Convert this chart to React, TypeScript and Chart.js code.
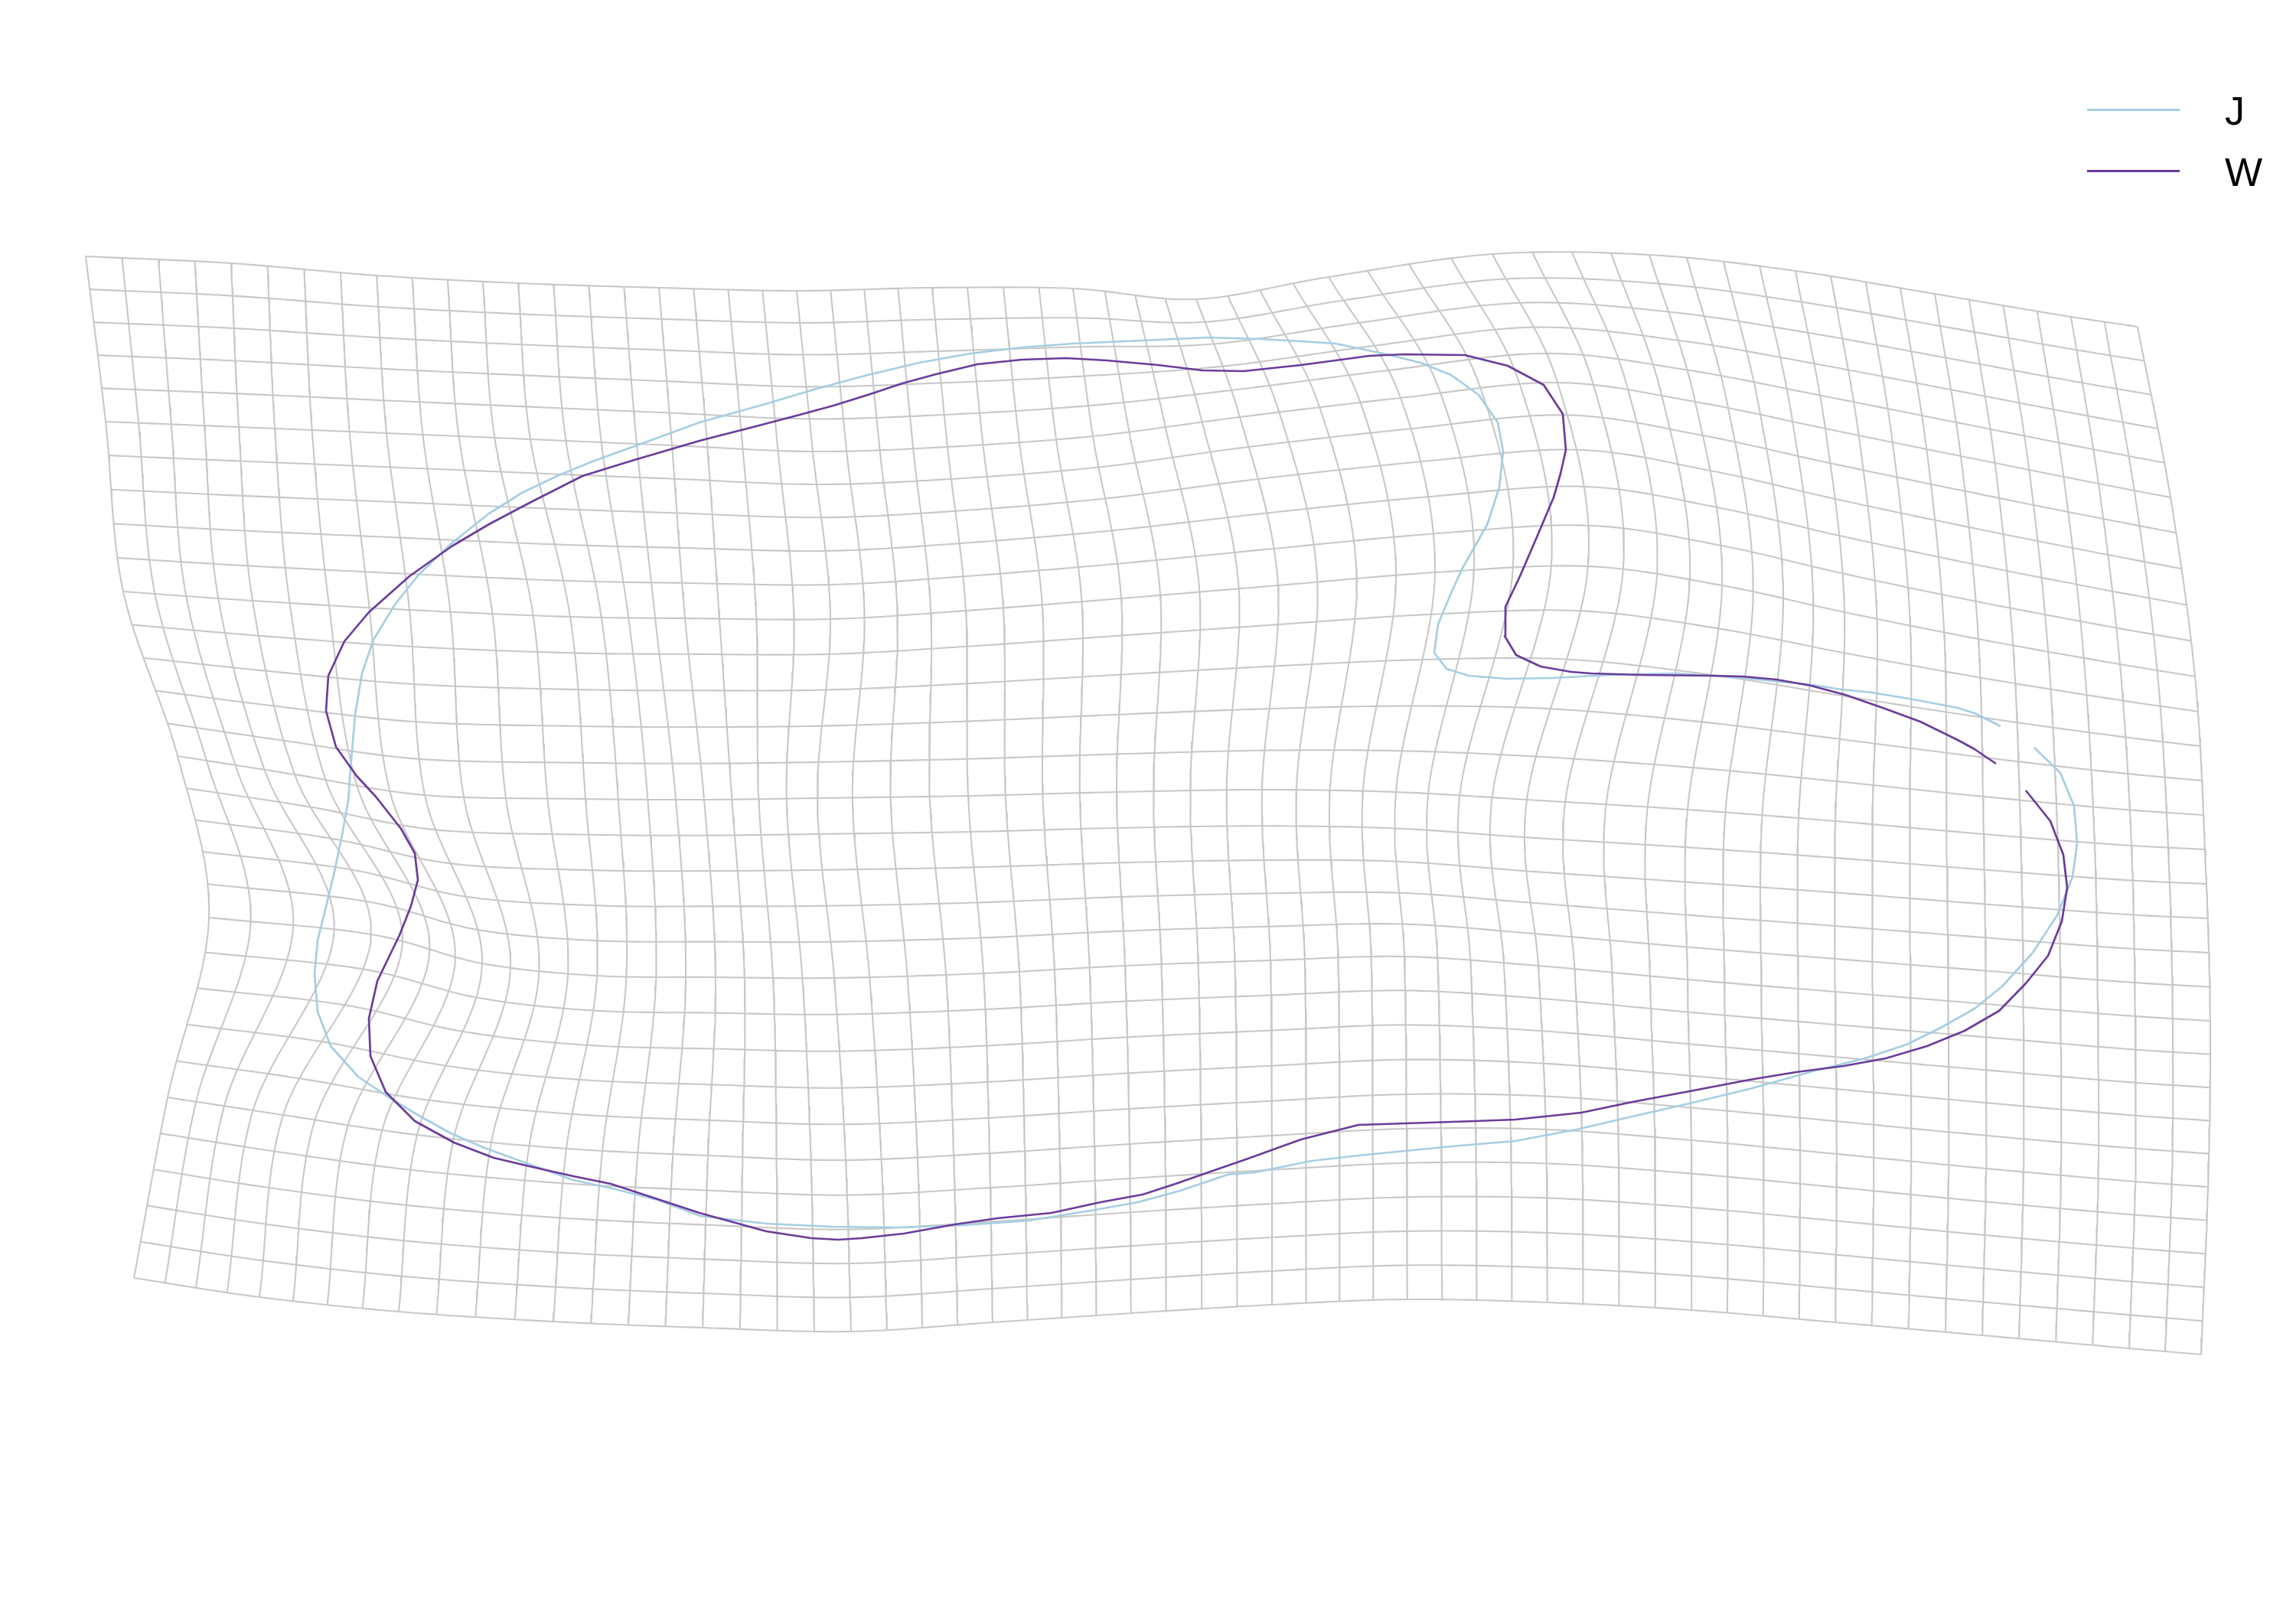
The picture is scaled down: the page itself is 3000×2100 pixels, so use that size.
import React, { useEffect, useRef } from "react";
import { Chart, registerables } from "chart.js";

Chart.register(...registerables);

// ---- series (plot units) ----
const seriesNames = ["J", "W"];
const seriesColors = ["#a6cee3", "#6a3d9a"];

const jX = [2614,2580,2558,2500,2446,2406,2362,2326,2280,2191,2102,2030,1968,1919,1890,1874,1879,1896,1910,1943,1959,1964,1957,1932,1896,1856,1812,1745,1700,1647,1580,1491,1402,1335,1268,1201,1134,1067,1000,914,835,774,728,682,639,590,547,516,488,473,464,459,455,448,437,424,415,411,415,432,468,508,544,589,633,688,749,804,859,915,1001,1087,1173,1259,1345,1431,1487,1542,1604,1640,1714,1775,1897,1980,2060,2133,2207,2286,2372,2437,2491,2536,2580,2616,2656,2688,2708,2714,2710,2692,2658];
const jY = [949,932,925,914,905,901,894,891,886,880,882,886,887,883,874,853,816,775,744,686,637,590,552,516,490,474,463,449,446,443,441,445,449,454,462,474,490,508,528,552,581,603,622,644,671,710,751,790,836,880,934,992,1046,1086,1139,1193,1229,1273,1322,1367,1407,1434,1456,1481,1500,1520,1542,1554,1568,1589,1599,1603,1604,1601,1595,1581,1571,1556,1535,1532,1517,1510,1498,1491,1476,1459,1442,1423,1399,1383,1365,1343,1318,1289,1245,1196,1146,1102,1053,1010,977];

const wX = [2608,2580,2558,2509,2460,2411,2366,2321,2277,2236,2146,2079,2053,2013,1981,1966,1967,1986,2008,2030,2039,2046,2042,2017,1970,1914,1834,1789,1745,1700,1625,1571,1513,1446,1393,1335,1277,1223,1179,1134,1089,1045,988,914,829,761,694,639,590,535,482,450,429,426,439,466,491,524,542,546,537,522,508,493,482,484,504,542,593,645,700,749,798,847,914,1001,1060,1095,1126,1181,1248,1303,1374,1438,1493,1536,1573,1628,1700,1775,1836,1928,1980,2066,2133,2213,2286,2347,2409,2464,2518,2567,2612,2647,2676,2694,2701,2696,2679,2647];
const wY = [998,979,967,943,925,908,896,888,884,883,882,880,878,871,856,831,793,753,702,650,619,588,541,503,478,464,463,465,471,477,485,484,477,471,468,470,476,489,501,516,530,542,557,576,601,622,656,685,714,753,800,838,883,929,976,1014,1041,1083,1115,1150,1184,1222,1251,1282,1331,1380,1427,1465,1493,1513,1526,1537,1547,1563,1585,1609,1618,1620,1618,1612,1600,1592,1585,1571,1561,1547,1534,1515,1489,1470,1468,1465,1463,1454,1440,1425,1411,1401,1393,1383,1367,1347,1321,1285,1249,1204,1160,1117,1073,1033];

// ---- deformed grid: node positions read at a coarse lattice of grid indices ----
const gridRowCount = 31;
const gridColCount = 59;
const latticeCols = [0,4,8,12,16,20,24,28,32,36,40,44,48,52,56,58];
const latticeRows = [0,5,10,15,20,25,30];
const latticeX = [
  [112,302,492,677,861,1041,1218,1402,1563,1736,1950,2155,2346,2528,2706,2793],
  [138,312,505,693,878,1062,1238,1428,1620,1830,2035,2215,2385,2562,2742,2836],
  [161,330,535,745,895,1085,1262,1465,1670,1875,2075,2250,2410,2585,2770,2868],
  [232,385,555,765,920,1068,1265,1459,1649,1824,1995,2205,2398,2592,2785,2881],
  [273,485,630,780,935,1090,1285,1470,1660,1835,2010,2205,2398,2595,2790,2888],
  [219,370,545,740,925,1105,1293,1476,1662,1838,2020,2210,2400,2595,2790,2885],
  [175,339,521,723,918,1112,1297,1478,1662,1839,2022,2210,2398,2590,2782,2876],
];
const latticeY = [
  [335,344,360,370,376,380,376,377,391,362,332,333,354,384,414,427],
  [551,558,566,574,582,590,584,570,545,520,500,525,560,596,632,650],
  [773,785,797,806,808,809,798,782,765,748,740,765,800,835,868,884],
  [988,1012,1039,1044,1045,1043,1040,1035,1032,1035,1045,1058,1073,1090,1105,1110],
  [1199,1221,1259,1275,1277,1278,1272,1262,1255,1250,1262,1280,1296,1312,1328,1334],
  [1434,1457,1483,1501,1510,1516,1507,1495,1484,1475,1476,1490,1508,1527,1544,1551],
  [1670,1695,1714,1727,1735,1740,1728,1716,1705,1698,1702,1712,1728,1745,1762,1770],
];

const plotXRange = [0, 3000];
const plotYRange = [0, 2100];

function hermite(knots: number[], vals: number[], t: number): number {
  const n = knots.length;
  let k = 0;
  while (k < n - 2 && t > knots[k + 1]) k++;
  const t0 = knots[k];
  const t1 = knots[k + 1];
  const h = t1 - t0;
  const s = (t - t0) / h;
  const slope = (a: number) => {
    if (a === 0) return (vals[1] - vals[0]) / (knots[1] - knots[0]);
    if (a === n - 1) return (vals[n - 1] - vals[n - 2]) / (knots[n - 1] - knots[n - 2]);
    return (
      ((vals[a + 1] - vals[a]) / (knots[a + 1] - knots[a]) +
        (vals[a] - vals[a - 1]) / (knots[a] - knots[a - 1])) / 2
    );
  };
  const m0 = slope(k) * h;
  const m1 = slope(k + 1) * h;
  const s2 = s * s;
  const s3 = s2 * s;
  return (
    (2 * s3 - 3 * s2 + 1) * vals[k] +
    (s3 - 2 * s2 + s) * m0 +
    (-2 * s3 + 3 * s2) * vals[k + 1] +
    (s3 - s2) * m1
  );
}

function gridPoint(r: number, c: number) {
  const xs = latticeX.map((row) => hermite(latticeCols, row, c));
  const ys = latticeY.map((row) => hermite(latticeCols, row, c));
  return { x: hermite(latticeRows, xs, r), y: hermite(latticeRows, ys, r) };
}

export default function App() {
  const canvasRef = useRef<HTMLCanvasElement | null>(null);

  useEffect(() => {
    const canvas = canvasRef.current;
    if (!canvas) return;
    const datasets: any[] = [];

    const curves = [
      { xs: wX, ys: wY, name: seriesNames[1], color: seriesColors[1] },
      { xs: jX, ys: jY, name: seriesNames[0], color: seriesColors[0] },
    ];
    curves.forEach((cv, i) => {
      datasets.push({
        label: cv.name,
        data: cv.xs.map((x, k) => ({ x, y: cv.ys[k] })),
        showLine: true,
        borderColor: cv.color,
        backgroundColor: cv.color,
        borderWidth: 2.7,
        pointRadius: 0,
        fill: false,
        tension: 0,
        borderJoinStyle: "round",
        order: i,
      });
    });

    const gridColor = "#c8c8c8";
    const step = 0.25;
    for (let r = 0; r < gridRowCount; r++) {
      const pts: any[] = [];
      for (let c = 0; c <= gridColCount - 1 + 1e-9; c += step) pts.push(gridPoint(r, c));
      datasets.push({
        label: "grid",
        data: pts,
        showLine: true,
        borderColor: gridColor,
        borderWidth: 2.1,
        pointRadius: 0,
        fill: false,
        tension: 0,
        order: 5,
      });
    }
    for (let c = 0; c < gridColCount; c++) {
      const pts: any[] = [];
      for (let r = 0; r <= gridRowCount - 1 + 1e-9; r += step) pts.push(gridPoint(r, c));
      datasets.push({
        label: "grid",
        data: pts,
        showLine: true,
        borderColor: gridColor,
        borderWidth: 2.1,
        pointRadius: 0,
        fill: false,
        tension: 0,
        order: 5,
      });
    }

    const chart = new Chart(canvas, {
      type: "scatter",
      data: { datasets },
      options: {
        responsive: false,
        animation: false,
        devicePixelRatio: 1,
        events: [],
        layout: { padding: 0 },
        plugins: { legend: { display: false }, tooltip: { enabled: false } },
        scales: {
          x: { type: "linear", min: plotXRange[0], max: plotXRange[1], display: false },
          y: { type: "linear", min: plotYRange[0], max: plotYRange[1], reverse: true, display: false },
        },
      },
    });
    return () => chart.destroy();
  }, []);

  const legendTop = [142, 222];
  return (
    <div style={{ position: "absolute", left: 0, top: 0, width: 3000, height: 2100, background: "#ffffff", overflow: "hidden" }}>
      <canvas ref={canvasRef} width={3000} height={2100} style={{ display: "block", width: 3000, height: 2100 }} />
      {seriesNames.map((name, i) => (
        <React.Fragment key={name}>
          <div style={{ position: "absolute", left: 2727, top: legendTop[i], width: 121, height: 2.6, background: seriesColors[i] }} />
          <span
            style={{
              position: "absolute",
              left: 2907,
              top: legendTop[i] - 23,
              fontFamily: '"Liberation Sans", Arial, Helvetica, sans-serif',
              fontSize: 52,
              lineHeight: "52px",
              color: "#000000",
              whiteSpace: "nowrap",
            }}
          >
            {name}
          </span>
        </React.Fragment>
      ))}
    </div>
  );
}
